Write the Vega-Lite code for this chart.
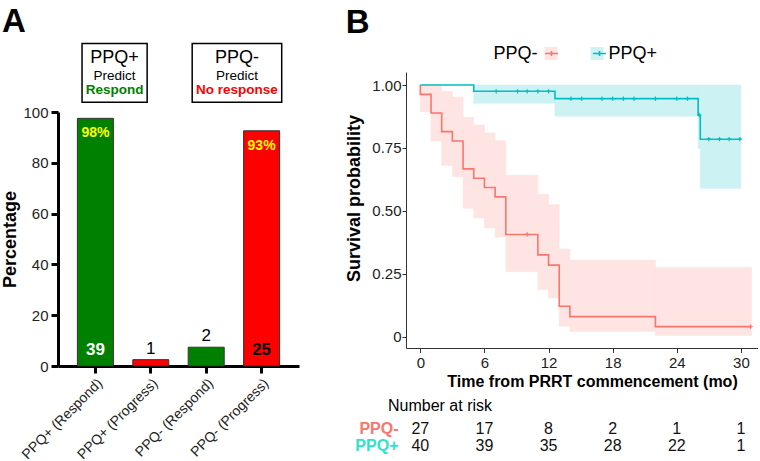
{
  "$schema": "https://vega.github.io/schema/vega-lite/v6.json",
  "padding": {"left": 1, "top": 5, "right": 0, "bottom": 0},
  "config": {
    "font": "Liberation Sans",
    "view": {"stroke": null},
    "axis": {"grid": false, "labelFont": "Liberation Sans", "titleFont": "Liberation Sans"},
    "title": {"font": "Liberation Sans", "color": "black"},
    "legend": {"labelFont": "Liberation Sans", "titleFont": "Liberation Sans"}
  },
  "datasets": {
    "bars": [
      {"category": "PPQ+ (Respond)", "outcome": "Respond", "pct": 97.5, "n": 39, "pctLabel": "98%"},
      {"category": "PPQ+ (Progress)", "outcome": "Progress", "pct": 2.5, "n": 1, "pctLabel": "3%"},
      {"category": "PPQ- (Respond)", "outcome": "Respond", "pct": 7.4, "n": 2, "pctLabel": "7%"},
      {"category": "PPQ- (Progress)", "outcome": "Progress", "pct": 92.6, "n": 25, "pctLabel": "93%"}
    ],
    "km": [
      {"group": "PPQ-", "i": 0, "t": 0, "surv": 1},
      {"group": "PPQ-", "i": 1, "t": 0, "surv": 0.963},
      {"group": "PPQ-", "i": 2, "t": 1, "surv": 0.889},
      {"group": "PPQ-", "i": 3, "t": 2, "surv": 0.815},
      {"group": "PPQ-", "i": 4, "t": 3, "surv": 0.778},
      {"group": "PPQ-", "i": 5, "t": 4, "surv": 0.667},
      {"group": "PPQ-", "i": 6, "t": 5, "surv": 0.63},
      {"group": "PPQ-", "i": 7, "t": 6, "surv": 0.593},
      {"group": "PPQ-", "i": 8, "t": 7, "surv": 0.556},
      {"group": "PPQ-", "i": 9, "t": 8, "surv": 0.407},
      {"group": "PPQ-", "i": 10, "t": 11, "surv": 0.326},
      {"group": "PPQ-", "i": 11, "t": 12, "surv": 0.285},
      {"group": "PPQ-", "i": 12, "t": 13, "surv": 0.122},
      {"group": "PPQ-", "i": 13, "t": 14, "surv": 0.081},
      {"group": "PPQ-", "i": 14, "t": 22, "surv": 0.041},
      {"group": "PPQ-", "i": 15, "t": 31, "surv": 0.041},
      {"group": "PPQ+", "i": 0, "t": 0, "surv": 1},
      {"group": "PPQ+", "i": 1, "t": 5, "surv": 0.975},
      {"group": "PPQ+", "i": 2, "t": 12.6, "surv": 0.946},
      {"group": "PPQ+", "i": 3, "t": 26, "surv": 0.881},
      {"group": "PPQ+", "i": 4, "t": 26.2, "surv": 0.785},
      {"group": "PPQ+", "i": 5, "t": 30, "surv": 0.785}
    ],
    "band": [
      {"group": "PPQ-", "t": 0, "tEnd": 1, "lower": 0.894, "upper": 1},
      {"group": "PPQ-", "t": 1, "tEnd": 2, "lower": 0.778, "upper": 1},
      {"group": "PPQ-", "t": 2, "tEnd": 3, "lower": 0.681, "upper": 0.975},
      {"group": "PPQ-", "t": 3, "tEnd": 4, "lower": 0.636, "upper": 0.952},
      {"group": "PPQ-", "t": 4, "tEnd": 5, "lower": 0.511, "upper": 0.871},
      {"group": "PPQ-", "t": 5, "tEnd": 6, "lower": 0.472, "upper": 0.841},
      {"group": "PPQ-", "t": 6, "tEnd": 7, "lower": 0.433, "upper": 0.81},
      {"group": "PPQ-", "t": 7, "tEnd": 8, "lower": 0.397, "upper": 0.779},
      {"group": "PPQ-", "t": 8, "tEnd": 11, "lower": 0.259, "upper": 0.642},
      {"group": "PPQ-", "t": 11, "tEnd": 12, "lower": 0.188, "upper": 0.565},
      {"group": "PPQ-", "t": 12, "tEnd": 13, "lower": 0.155, "upper": 0.525},
      {"group": "PPQ-", "t": 13, "tEnd": 14, "lower": 0.043, "upper": 0.349},
      {"group": "PPQ-", "t": 14, "tEnd": 22, "lower": 0.022, "upper": 0.305},
      {"group": "PPQ-", "t": 22, "tEnd": 31, "lower": 0.006, "upper": 0.276},
      {"group": "PPQ+", "t": 5, "tEnd": 12.6, "lower": 0.928, "upper": 1},
      {"group": "PPQ+", "t": 12.6, "tEnd": 26, "lower": 0.876, "upper": 1},
      {"group": "PPQ+", "t": 26, "tEnd": 26.2, "lower": 0.749, "upper": 1},
      {"group": "PPQ+", "t": 26.2, "tEnd": 30, "lower": 0.59, "upper": 1}
    ],
    "censor": [
      {"group": "PPQ-", "t": 10, "surv": 0.407},
      {"group": "PPQ-", "t": 30.9, "surv": 0.041},
      {"group": "PPQ+", "t": 7.1, "surv": 0.975},
      {"group": "PPQ+", "t": 9.1, "surv": 0.975},
      {"group": "PPQ+", "t": 10, "surv": 0.975},
      {"group": "PPQ+", "t": 11, "surv": 0.975},
      {"group": "PPQ+", "t": 12, "surv": 0.975},
      {"group": "PPQ+", "t": 14.1, "surv": 0.946},
      {"group": "PPQ+", "t": 15.1, "surv": 0.946},
      {"group": "PPQ+", "t": 17, "surv": 0.946},
      {"group": "PPQ+", "t": 18, "surv": 0.946},
      {"group": "PPQ+", "t": 19, "surv": 0.946},
      {"group": "PPQ+", "t": 20, "surv": 0.946},
      {"group": "PPQ+", "t": 22, "surv": 0.946},
      {"group": "PPQ+", "t": 24, "surv": 0.946},
      {"group": "PPQ+", "t": 25, "surv": 0.946},
      {"group": "PPQ+", "t": 26.1, "surv": 0.881},
      {"group": "PPQ+", "t": 27, "surv": 0.785},
      {"group": "PPQ+", "t": 28, "surv": 0.785},
      {"group": "PPQ+", "t": 28.9, "surv": 0.785},
      {"group": "PPQ+", "t": 29.9, "surv": 0.785}
    ],
    "risk": [
      {"group": "PPQ-", "t": 0, "n": 27},
      {"group": "PPQ-", "t": 6, "n": 17},
      {"group": "PPQ-", "t": 12, "n": 8},
      {"group": "PPQ-", "t": 18, "n": 2},
      {"group": "PPQ-", "t": 24, "n": 1},
      {"group": "PPQ-", "t": 30, "n": 1},
      {"group": "PPQ+", "t": 0, "n": 40},
      {"group": "PPQ+", "t": 6, "n": 39},
      {"group": "PPQ+", "t": 12, "n": 35},
      {"group": "PPQ+", "t": 18, "n": 28},
      {"group": "PPQ+", "t": 24, "n": 22},
      {"group": "PPQ+", "t": 30, "n": 1}
    ]
  },
  "spacing": 46,
  "hconcat": [
    {
      "width": 241,
      "height": 294,
      "title": {"text": "A", "anchor": "start", "frame": "bounds", "fontSize": 33, "fontWeight": "bold", "offset": 4},
      "layer": [
        {
          "data": {"name": "bars"},
          "encoding": {
            "x": {"field": "category", "type": "nominal", "sort": null, "title": null,
              "scale": {"paddingInner": 0.35, "paddingOuter": 0.35},
              "axis": {"labelAngle": -45, "labelFontSize": 14, "labelColor": "#222", "domainColor": "black", "domainWidth": 3, "tickColor": "black", "tickWidth": 3, "tickSize": 7, "labelPadding": 3}},
            "y": {"field": "pct", "type": "quantitative",
              "scale": {"domain": [0, 100], "range": [294, 40], "nice": false},
              "axis": {"values": [0, 20, 40, 60, 80, 100], "title": "Percentage", "titleFontSize": 18, "titleFontWeight": "bold", "titleColor": "black", "titlePadding": 3, "labelFontSize": 15, "labelColor": "#222", "domainColor": "black", "domainWidth": 3, "tickColor": "black", "tickWidth": 3, "tickSize": 7, "labelPadding": 3}}
          },
          "layer": [
            {"mark": {"type": "bar", "stroke": "#333", "strokeWidth": 1},
             "encoding": {"color": {"field": "outcome", "type": "nominal", "scale": {"domain": ["Respond", "Progress"], "range": ["#008000", "#FF0000"]}, "legend": null}}},
            {"transform": [{"filter": "datum.pct > 50"}],
             "mark": {"type": "text", "baseline": "top", "dy": 8, "fontSize": 14, "fontWeight": "bold", "color": "#FFFF00"},
             "encoding": {"text": {"field": "pctLabel"}}},
            {"transform": [{"filter": "datum.pct > 50"}],
             "mark": {"type": "text", "baseline": "alphabetic", "dy": -11, "fontSize": 17, "fontWeight": "bold"},
             "encoding": {"y": {"datum": 0}, "text": {"field": "n"},
               "color": {"condition": {"test": "datum.outcome == 'Respond'", "value": "white"}, "value": "black"}}},
            {"transform": [{"filter": "datum.pct <= 50"}],
             "mark": {"type": "text", "baseline": "alphabetic", "dy": -6, "fontSize": 17, "color": "black"},
             "encoding": {"text": {"field": "n"}}}
          ]
        },
        {
          "data": {"values": [{}]},
          "layer": [
            {"mark": {"type": "rect", "fill": "white", "stroke": "black", "strokeWidth": 1.5},
             "encoding": {"x": {"datum": 0.434, "type": "quantitative", "scale": {"domain": [0, 4.35], "nice": false, "zero": false}, "axis": null},
               "x2": {"datum": 1.609}, "y": {"datum": 103.8, "type": "quantitative"}, "y2": {"datum": 127}}},
            {"mark": {"type": "rect", "fill": "white", "stroke": "black", "strokeWidth": 1.5},
             "encoding": {"x": {"datum": 2.422, "type": "quantitative"}, "x2": {"datum": 4.038}, "y": {"datum": 103.8, "type": "quantitative"}, "y2": {"datum": 127}}},
            {"mark": {"type": "text", "text": "PPQ+", "fontSize": 18, "color": "black", "baseline": "middle"},
             "encoding": {"x": {"datum": 1.021, "type": "quantitative"}, "y": {"datum": 121.1, "type": "quantitative"}}},
            {"mark": {"type": "text", "text": "Predict", "fontSize": 13.5, "color": "black", "baseline": "middle"},
             "encoding": {"x": {"datum": 1.021, "type": "quantitative"}, "y": {"datum": 114.2, "type": "quantitative"}}},
            {"mark": {"type": "text", "text": "Respond", "fontSize": 13.5, "fontWeight": "bold", "color": "#008000", "baseline": "middle"},
             "encoding": {"x": {"datum": 1.021, "type": "quantitative"}, "y": {"datum": 108.5, "type": "quantitative"}}},
            {"mark": {"type": "text", "text": "PPQ-", "fontSize": 18, "color": "black", "baseline": "middle"},
             "encoding": {"x": {"datum": 3.23, "type": "quantitative"}, "y": {"datum": 121.1, "type": "quantitative"}}},
            {"mark": {"type": "text", "text": "Predict", "fontSize": 13.5, "color": "black", "baseline": "middle"},
             "encoding": {"x": {"datum": 3.23, "type": "quantitative"}, "y": {"datum": 114.2, "type": "quantitative"}}},
            {"mark": {"type": "text", "text": "No response", "fontSize": 13.5, "fontWeight": "bold", "color": "#FF0000", "baseline": "middle"},
             "encoding": {"x": {"datum": 3.23, "type": "quantitative"}, "y": {"datum": 108.5, "type": "quantitative"}}}
          ]
        }
      ],
      "resolve": {"scale": {"x": "independent"}, "axis": {"x": "independent"}}
    },
    {
      "spacing": 8,
      "vconcat": [
        {
          "width": 352,
          "height": 276,
          "title": {"text": "B", "anchor": "start", "frame": "bounds", "fontSize": 33, "fontWeight": "bold", "offset": 4.5},
          "encoding": {
            "x": {"field": "t", "type": "quantitative",
              "scale": {"domain": [-1.34, 31.6], "nice": false, "zero": false},
              "axis": {"values": [0, 6, 12, 18, 24, 30], "title": "Time from PRRT commencement (mo)", "titleFontSize": 16, "titleFontWeight": "bold", "titleColor": "black", "titlePadding": 3, "titleX": 186, "labelFontSize": 15, "labelColor": "#222", "labelPadding": 3, "tickSize": 4.5, "tickColor": "#333", "domainColor": "#333", "domainWidth": 1, "tickWidth": 1}},
            "y": {"type": "quantitative",
              "scale": {"domain": [-0.0437, 1.0516], "nice": false, "zero": false},
              "axis": {"values": [0, 0.25, 0.5, 0.75, 1], "labelExpr": "datum.value == 0 ? '0' : format(datum.value, '.2f')", "title": "Survival probability", "titleFontSize": 18, "titleFontWeight": "bold", "titleColor": "black", "titlePadding": 8, "titleY": 126, "labelFontSize": 15, "labelColor": "#222", "labelPadding": 1, "tickSize": 4, "tickColor": "#333", "domainColor": "#333", "domainWidth": 1, "tickWidth": 1}}
          },
          "layer": [
            {"data": {"name": "band"},
             "mark": {"type": "rect", "strokeWidth": 0.6, "stroke": {"expr": "datum.group == 'PPQ-' ? '#FEE4E2' : '#CCF2F3'"}},
             "encoding": {
               "y": {"field": "lower", "type": "quantitative"},
               "y2": {"field": "upper"},
               "x2": {"field": "tEnd"},
               "fill": {"field": "group", "type": "nominal", "sort": "descending",
                 "scale": {"range": ["#FEE4E2", "#CCF2F3"]},
                 "legend": {"orient": "none", "legendX": 87, "legendY": -27.5, "direction": "horizontal", "title": "PPQ-", "titleOrient": "left", "titleFontSize": 18, "titleFontWeight": "normal", "titleColor": "transparent", "titlePadding": 4, "labelExpr": "''", "labelFontSize": 18, "labelColor": "transparent", "labelOffset": 0, "columnPadding": 28, "symbolType": "square", "symbolSize": 169, "symbolStrokeWidth": 0}}
             }},
            {"data": {"name": "km"},
             "mark": {"type": "line", "interpolate": "step-after", "strokeWidth": 1.6},
             "encoding": {
               "y": {"field": "surv", "type": "quantitative"},
               "order": {"field": "i"},
               "stroke": {"field": "group", "type": "nominal",
                 "scale": {"domain": ["PPQ-", "PPQ+"], "range": ["#F8766D", "#00BFC4"]},
                 "legend": {"orient": "none", "legendX": 435.5, "legendY": -27.5, "direction": "horizontal", "title": "PPQ-", "titleOrient": "left", "titleFontSize": 18, "titleFontWeight": "normal", "titleColor": "black", "titlePadding": 4, "labelExpr": "datum.label == 'PPQ-' ? '' : datum.label", "labelFontSize": 18, "labelColor": "black", "labelOffset": 0, "columnPadding": 28, "symbolType": "M-1,0H1M0,-0.4V0.4", "symbolSize": 169, "symbolStrokeWidth": 1.6}}
             }},
            {"data": {"name": "censor"},
             "mark": {"type": "point", "shape": "M-1,0H1M0,-1V1", "size": 18, "strokeWidth": 1.2, "filled": false, "opacity": 1},
             "encoding": {
               "y": {"field": "surv", "type": "quantitative"},
               "stroke": {"field": "group", "type": "nominal"}
             }}
          ],
          "resolve": {"scale": {"fill": "independent"}, "legend": {"fill": "independent"}}
        },
        {
          "width": 352,
          "height": 34,
          "title": {"text": "Number at risk", "anchor": "start", "frame": "group", "dx": -18, "fontSize": 16, "fontWeight": "normal", "offset": 6},
          "data": {"name": "risk"},
          "mark": {"type": "text", "fontSize": 16, "color": "#111"},
          "encoding": {
            "x": {"field": "t", "type": "quantitative", "scale": {"domain": [-1.34, 31.6], "nice": false, "zero": false}, "axis": null},
            "y": {"field": "group", "type": "nominal", "scale": {"domain": ["PPQ-", "PPQ+"]},
              "axis": {"title": null, "domain": false, "ticks": false, "labelFontSize": 16, "labelFontWeight": "bold", "labelPadding": 8,
                "labelColor": {"condition": {"test": "datum.value == 'PPQ-'", "value": "#F8766D"}, "value": "#2DE3C8"}}},
            "text": {"field": "n", "type": "quantitative"}
          }
        }
      ]
    }
  ]
}
